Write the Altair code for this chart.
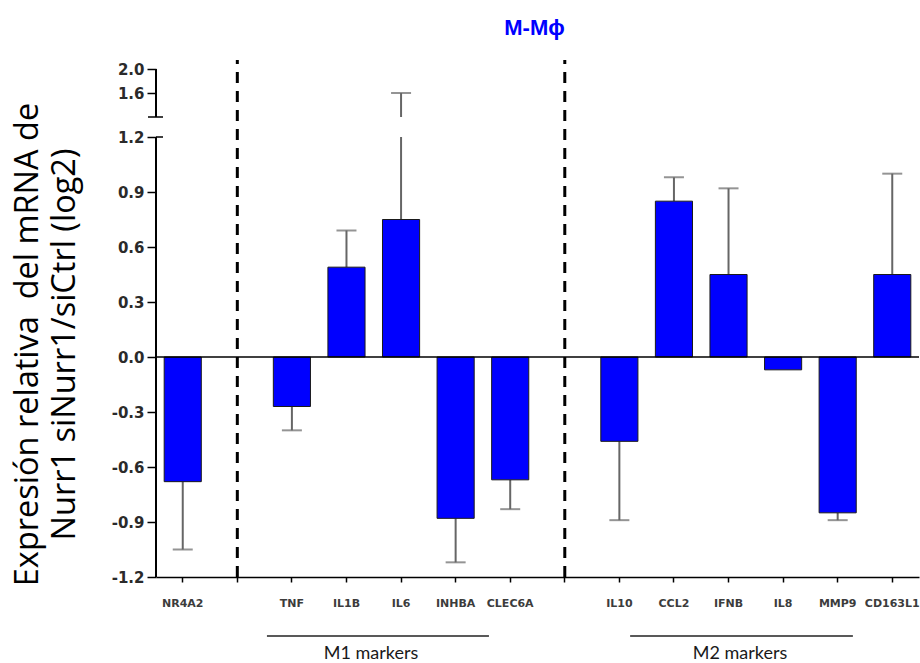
import altair as alt
import pandas as pd

# ---- data ----
categories = ["NR4A2", "sep1", "TNF", "IL1B", "IL6", "INHBA", "CLEC6A", "sep2",
              "IL10", "CCL2", "IFNB", "IL8", "MMP9", "CD163L1"]
genes = ["NR4A2", "TNF", "IL1B", "IL6", "INHBA", "CLEC6A",
         "IL10", "CCL2", "IFNB", "IL8", "MMP9", "CD163L1"]
log2_values = [-0.68, -0.27, 0.49, 0.75, -0.88, -0.67,
               -0.46, 0.85, 0.45, -0.07, -0.85, 0.45]
sem = [0.37, 0.13, 0.20, 0.85, 0.24, 0.16,
       0.43, 0.13, 0.47, None, 0.04, 0.55]
separators = ["sep1", "sep2"]
y_ticks = [-1.2, -0.9, -0.6, -0.3, 0.0, 0.3, 0.6, 0.9, 1.2, 1.6, 2.0]
group_labels = ["M1 markers", "M2 markers"]
title_text = "M-M\u03d5"
y_title = ["Expresión relativa \u00a0del mRNA de", "Nurr1 siNurr1/siCtrl (log2)"]

W, H = 763, 517

df = pd.DataFrame({"gene": genes, "value": log2_values, "sem": sem})
sep_df = pd.DataFrame({"gene": separators})
one = pd.DataFrame({"k": [0]})

# broken (piecewise) y scale: lower segment -1.2..1.2, gap, upper segment 1.2..2.15
yscale = alt.Scale(domain=[-1.2, 1.2, 1.2001, 2.15], range=[H, 77, 57, 0],
                   nice=False, zero=False)
xscale = alt.Scale(domain=categories, paddingInner=0.32, paddingOuter=0.15)

yaxis = alt.Axis(
    values=y_ticks,
    labelExpr="replace(format(datum.value, '.1f'), '\u2212', '-')",
    domain=False, grid=False, tickSize=9, tickWidth=1.5, tickColor="black",
    labelFont="DejaVu Sans", labelFontWeight="bold", labelFontSize=15,
    labelColor="#2a2a2a", labelPadding=3,
    title=y_title, titleFont="Open Sans", titleFontSize=32.5, titleFontWeight="normal",
    titleColor="black", titleAngle=270, titleX=-145, titleY=284,
    titleAlign="center", titleBaseline="top", titleLineHeight=37,
)
xaxis = alt.Axis(
    labelExpr="indexof(datum.value, 'sep') === 0 ? '' : datum.value",
    domainColor="black", domainWidth=1.5, tickColor="black", tickSize=5,
    tickWidth=1.5, labelFont="DejaVu Sans", labelFontWeight="bold",
    labelFontSize=11, labelColor="#3c3c3c", labelPadding=15, labelAngle=0,
    title=None, grid=False,
)


def X(**kw):
    return alt.X(scale=xscale, axis=xaxis, type="nominal", **kw)


def Y(**kw):
    return alt.Y(scale=yscale, axis=yaxis, type="quantitative", **kw)


base = alt.Chart(df).transform_calculate(
    err_end="datum.value + (datum.value < 0 ? -1 : 1) * datum.sem"
)

err_rule = base.transform_filter("isValid(datum.sem)").mark_rule(
    color="#666666", strokeWidth=2
).encode(x=X(field="gene"), y=Y(field="value"), y2="err_end:Q")

bars = base.mark_bar(color="#0000ff", stroke="#1a1a1a", strokeWidth=1).encode(
    x=X(field="gene"), y=Y(field="value"), y2=alt.Y2(datum=0)
)

caps = base.transform_filter("isValid(datum.sem)").mark_tick(
    color="#666666", size=20, thickness=2
).encode(x=X(field="gene"), y=Y(field="err_end"))

# white mask for the axis break gap
mask = alt.Chart(one).mark_rect(color="white").encode(
    x=alt.value(2), x2=alt.value(W),
    y=Y(datum=1.2), y2=alt.Y2(datum=1.2001)
)

zero_line = alt.Chart(one).mark_rule(color="black", strokeWidth=1.5).encode(
    x=alt.value(0), x2=alt.value(W), y=Y(datum=0)
)

dashed = alt.Chart(sep_df).mark_rule(
    color="black", strokeWidth=3, strokeDash=[11, 8]
).encode(x=X(field="gene"), y=Y(datum=-1.2), y2=alt.Y2(datum=2.15))

axis_low = alt.Chart(one).mark_rule(color="black", strokeWidth=2).encode(
    x=alt.value(0), y=Y(datum=-1.2), y2=alt.Y2(datum=1.2)
)
axis_high = alt.Chart(one).mark_rule(color="black", strokeWidth=2).encode(
    x=alt.value(0), y=Y(datum=1.2001), y2=alt.Y2(datum=2.0)
)
break_lo = alt.Chart(one).mark_rule(color="black", strokeWidth=1.5).encode(
    x=alt.value(0), x2=alt.value(7), y=Y(datum=1.2)
)
break_hi = alt.Chart(one).mark_rule(color="black", strokeWidth=1.5).encode(
    x=alt.value(-8), x2=alt.value(7), y=Y(datum=1.2001)
)

m1_line = alt.Chart(one).mark_rule(
    color="#222222", strokeWidth=1.5, xOffset=-6.4, x2Offset=-2.7
).encode(
    x=X(datum="TNF", bandPosition=0),
    x2=alt.X2(datum="CLEC6A", bandPosition=0),
    y=alt.value(576),
)
m2_line = alt.Chart(one).mark_rule(color="#222222", strokeWidth=1.5).encode(
    x=X(datum="IL10", bandPosition=0.79),
    x2=alt.X2(datum="MMP9", bandPosition=0.91),
    y=alt.value(576),
)
m1_text = alt.Chart(one).mark_text(
    text=group_labels[0], font="Lato", fontSize=18, color="#1a1a1a",
    baseline="alphabetic", align="center", dx=6
).encode(x=X(datum="IL1B", bandPosition=1), y=alt.value(599))
m2_text = alt.Chart(one).mark_text(
    text=group_labels[1], font="Lato", fontSize=18, color="#1a1a1a",
    baseline="alphabetic", align="center"
).encode(x=X(datum="IFNB", bandPosition=0.81), y=alt.value(599))

chart = alt.layer(
    err_rule, bars, caps, mask, zero_line, dashed,
    axis_low, axis_high, break_lo, break_hi,
    m1_line, m2_line, m1_text, m2_text,
).properties(
    width=W, height=H,
    title=alt.TitleParams(
        title_text, anchor="middle", frame="group", fontSize=22,
        font="Liberation Sans", fontWeight="bold", color="#0000ff",
        baseline="alphabetic", offset=2, dx=-3,
    ),
    autosize=alt.AutoSizeParams(type="none"),
    padding={"left": 156, "top": 60, "right": 1, "bottom": 86},
).configure_view(stroke=None)

chart.save("out.html", embed_options={"renderer": "svg", "actions": False})
